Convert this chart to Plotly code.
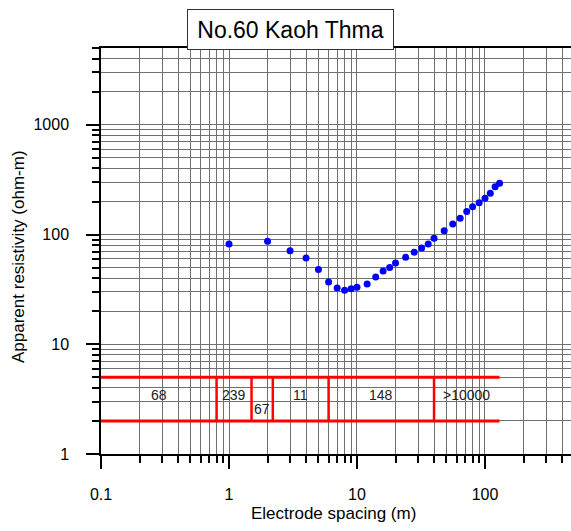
import numpy as np
import plotly.graph_objects as go

# Sounding curve: electrode spacing (m) vs apparent resistivity (ohm-m)
spacing = [1, 2, 3, 4, 5, 6, 7, 8, 9, 10, 12, 14, 16, 18, 20, 24, 28, 32, 36,
           40, 48, 56, 64, 72, 80, 90, 100, 110, 120, 130]
rho_app = [82, 87, 71, 61, 48, 37, 32.5, 31, 32, 33, 35.5, 41, 46.5, 50, 55,
           62, 69, 75.5, 82, 92.5, 108, 125, 141, 162, 179, 195, 214, 238, 272, 294]

# Interpreted layer model
layer_bounds = [0.8, 1.5, 2.2, 6.0, 40.0]
layer_rho = ["68", "239", "67", "11", "148", ">10000"]
model_x_start = 0.1
model_x_end = 130
band_low, band_high = 2, 5

x_ticks = [0.1, 1, 10, 100]
y_ticks = [1, 10, 100, 1000]

GRID = "#707070"
RED = "#ff0000"
FONT = "Liberation Sans, Arial, sans-serif"

# plot-area geometry in pixels (used to place paper-referenced text)
L, T, B, W, H = 101, 48, 77, 571, 531
PW, PH = W - L, H - T - B

fig = go.Figure()

# model band: two horizontal lines
for yv in (band_high, band_low):
    fig.add_trace(go.Scatter(x=[model_x_start, model_x_end], y=[yv, yv],
                             mode="lines", line=dict(color=RED, width=3),
                             hoverinfo="skip", showlegend=False))
# layer boundaries
for b in layer_bounds:
    fig.add_trace(go.Scatter(x=[b, b], y=[band_low, band_high],
                             mode="lines", line=dict(color=RED, width=2.5),
                             hoverinfo="skip", showlegend=False))

# measured data
fig.add_trace(go.Scatter(x=spacing, y=rho_app, mode="markers",
                         marker=dict(color="#0000ff", size=7),
                         showlegend=False))

# layer resistivity labels
edges = [model_x_start] + layer_bounds + [model_x_end]
mid_y = np.sqrt(band_low * band_high)
for i, lab in enumerate(layer_rho):
    lo, hi = edges[i], edges[i + 1]
    xc = np.sqrt(lo * hi)
    narrow = hi / lo < 1.6
    fig.add_annotation(x=np.log10(xc), y=np.log10(2.55 if narrow else mid_y),
                       text=lab, showarrow=False, xanchor="center",
                       yanchor="middle", yshift=0 if narrow else 4,
                       font=dict(family=FONT, size=14, color="#222222"))

axis_common = dict(
    type="log", showline=True, linecolor="black", linewidth=1.5,
    ticks="outside", ticklen=13, tickwidth=1.5, tickcolor="black",
    showgrid=True, gridcolor=GRID, gridwidth=1, zeroline=False,
    exponentformat="none",
    tickfont=dict(family=FONT, size=16, color="black"),
    minor=dict(dtick="D1", ticks="outside", ticklen=7, tickwidth=1.5,
               tickcolor="black", showgrid=True, gridcolor=GRID, gridwidth=1),
)

fig.update_xaxes(**axis_common, range=[-1, 2.672], mirror=True,
                 tickvals=x_ticks, ticktext=[str(v) for v in x_ticks],
                 ticklabelstandoff=12)
fig.update_yaxes(**axis_common, range=[0, 3.7],
                 tickvals=y_ticks, ticktext=[str(v) for v in y_ticks],
                 ticklabelstandoff=14)

# axis titles
fig.add_annotation(text="Electrode spacing (m)", xref="paper", yref="paper",
                   x=(333 - L) / PW, y=-(513 - (H - B)) / PH,
                   xanchor="center", yanchor="middle", showarrow=False,
                   font=dict(family=FONT, size=17, color="black"))
fig.add_annotation(text="Apparent resistivity (ohm-m)", xref="paper", yref="paper",
                   x=(18 - L) / PW, y=((H - B) - 257) / PH, textangle=-90,
                   xanchor="center", yanchor="middle", showarrow=False,
                   font=dict(family=FONT, size=17, color="black"))

# title box
fig.add_annotation(text="No.60 Kaoh Thma", xref="paper", yref="paper",
                   x=(290.5 - L) / PW, y=1 + (T - 29.5) / PH,
                   xanchor="center", yanchor="middle", showarrow=False,
                   font=dict(family=FONT, size=23, color="black"),
                   bgcolor="white", bordercolor="#333333", borderwidth=1,
                   borderpad=1, width=203, height=37)

fig.update_layout(width=W, height=H,
                  margin=dict(l=L, r=0, t=T, b=B),
                  paper_bgcolor="white", plot_bgcolor="white",
                  font=dict(family=FONT))

fig.write_html("out.html")
